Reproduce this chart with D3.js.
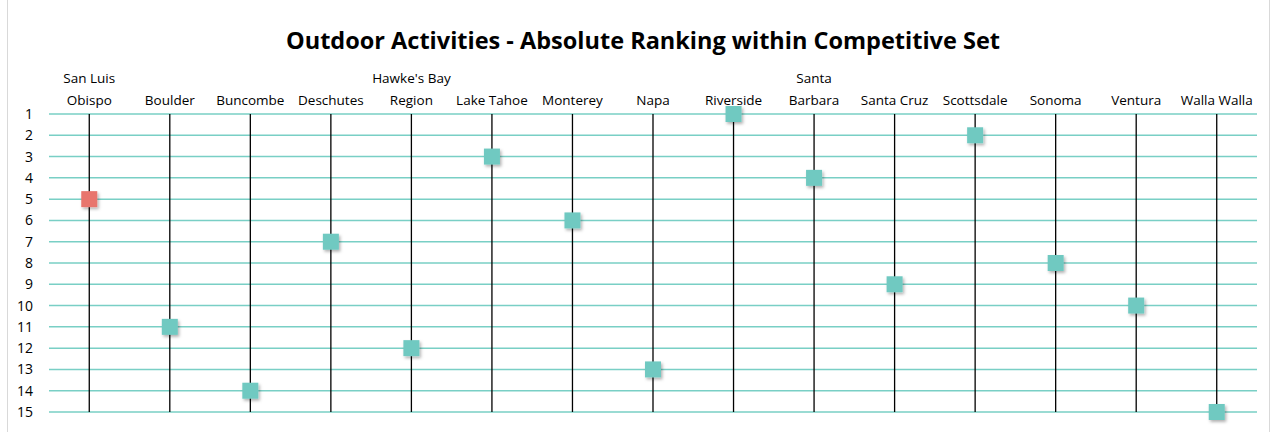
<!DOCTYPE html>
<html>
<head>
<meta charset="utf-8">
<script src="https://cdn.jsdelivr.net/npm/d3@7"></script>
<style>
  body { margin: 0; background: #fff; }
  text { font-family: "Open Sans", "Noto Sans", sans-serif; fill: #000; }
</style>
</head>
<body>
<div id="chart"></div>
<script>
// chart size
var svgWidth = 1277;
var svgHeight = 432;

var margin = { top: 114, right: 20, bottom: 20, left: 49 };
var width = 1257 - margin.left;
var height = 412 - margin.top;

// data
var places = [
  ["San Luis", "Obispo"], ["Boulder"], ["Buncombe"], ["Deschutes"],
  ["Hawke's Bay", "Region"], ["Lake Tahoe"], ["Monterey"], ["Napa"],
  ["Riverside"], ["Santa", "Barbara"], ["Santa Cruz"], ["Scottsdale"],
  ["Sonoma"], ["Ventura"], ["Walla Walla"]
];
var ranks = [5, 11, 14, 7, 12, 3, 6, 13, 1, 4, 9, 2, 8, 10, 15];
var rankTicks = [1, 2, 3, 4, 5, 6, 7, 8, 9, 10, 11, 12, 13, 14, 15];
var highlight = "San Luis Obispo";

var svg = d3.select("#chart")
  .append("svg")
  .attr("width", svgWidth)
  .attr("height", svgHeight);

// outer frame
svg.append("rect")
  .attr("x", 7.5).attr("y", -1)
  .attr("width", 1262).attr("height", svgHeight + 2)
  .attr("fill", "none")
  .attr("stroke", "#d9d9d9");

svg.append("text")
  .attr("x", 643)
  .attr("y", 49)
  .attr("text-anchor", "middle")
  .style("font-size", "23.5px")
  .style("font-weight", "bold")
  .text("Outdoor Activities - Absolute Ranking within Competitive Set");

var chartGroup = svg.append("g")
  .attr("transform", `translate(${margin.left}, ${margin.top})`);

var names = places.map(p => p.join(" "));

var xScale = d3.scaleBand()
  .domain(names)
  .range([0, width]);

var yScale = d3.scaleLinear()
  .domain([1, 15])
  .range([0, height]);

// horizontal grid lines
chartGroup.selectAll(".grid")
  .data(rankTicks)
  .enter()
  .append("line")
  .attr("x1", 0)
  .attr("x2", width)
  .attr("y1", d => yScale(d))
  .attr("y2", d => yScale(d))
  .attr("stroke", "#79cfc5")
  .attr("stroke-width", 1.5);

// left axis labels (no line)
var leftAxis = d3.axisLeft(yScale).tickValues(rankTicks).tickSize(0).tickPadding(16);
var yAxisG = chartGroup.append("g").call(leftAxis);
yAxisG.select(".domain").remove();
yAxisG.selectAll("text")
  .style("font-family", "'Open Sans', 'Noto Sans', sans-serif")
  .style("font-size", "14px")
  .attr("fill", "#000");

// vertical lines
chartGroup.selectAll(".vline")
  .data(names)
  .enter()
  .append("line")
  .attr("x1", d => xScale(d) + xScale.bandwidth() / 2)
  .attr("x2", d => xScale(d) + xScale.bandwidth() / 2)
  .attr("y1", yScale(1))
  .attr("y2", yScale(15))
  .attr("stroke", "#000")
  .attr("stroke-width", 1.3);

// category labels
var labels = chartGroup.selectAll(".cat")
  .data(places)
  .enter()
  .append("text")
  .attr("text-anchor", "middle")
  .style("font-size", "13.5px")
  .attr("transform", (d, i) => `translate(${xScale(names[i]) + xScale.bandwidth() / 2}, -9)`);

labels.selectAll("tspan")
  .data(d => d.map((t, j) => ({ t: t, dy: j - (d.length - 1) })))
  .enter()
  .append("tspan")
  .attr("x", 0)
  .attr("y", d => d.dy * 22)
  .text(d => d.t);

// shadow filter for markers
var defs = svg.append("defs");
var f = defs.append("filter").attr("id", "shadow")
  .attr("x", "-50%").attr("y", "-50%").attr("width", "200%").attr("height", "200%");
f.append("feDropShadow")
  .attr("dx", 1.5).attr("dy", 2)
  .attr("stdDeviation", 1.8)
  .attr("flood-color", "#000")
  .attr("flood-opacity", 0.3);

// markers
var size = 16;
chartGroup.selectAll(".marker")
  .data(ranks)
  .enter()
  .append("rect")
  .attr("x", (d, i) => xScale(names[i]) + xScale.bandwidth() / 2 - size / 2)
  .attr("y", d => yScale(d) - size / 2)
  .attr("width", size)
  .attr("height", size)
  .attr("fill", (d, i) => names[i] === highlight ? "#e8746d" : "#6fc9c1")
  .attr("filter", "url(#shadow)");
</script>
</body>
</html>
